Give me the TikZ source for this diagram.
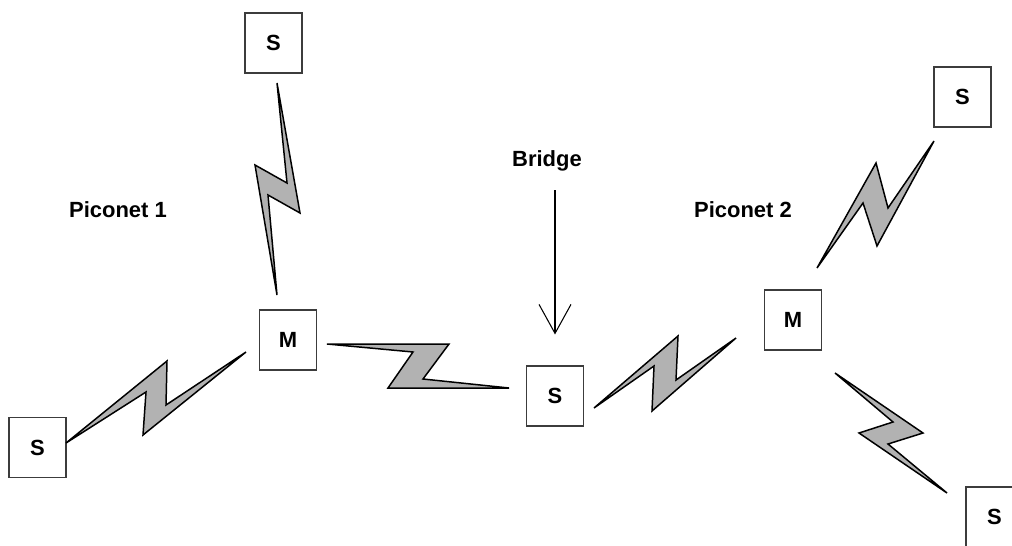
\documentclass[tikz,border=0pt]{standalone}
\usepackage{fontspec}
\setmainfont{Liberation Sans}
\definecolor{boltgray}{RGB}{178,178,178}
\definecolor{boxline}{RGB}{60,60,60}
\usetikzlibrary{arrows.meta,calc}

\begin{document}
\begin{tikzpicture}[
    box/.style={draw=boxline,line width=0.6pt,minimum width=1.14cm,minimum height=1.2cm,
      font=\fontsize{12.5}{15}\selectfont\bfseries,inner sep=0pt},
    lbl/.style={font=\fontsize{12.5}{15}\selectfont\bfseries},
    bolt/.style={draw=black,fill=boltgray,line width=0.85pt}]
  \useasboundingbox (0,0) rectangle (20.24,10.9);
  % Devices
  \node[box] (topS) at (5.47,10.04) {S};
  \node[box] (mA) at (5.76,4.10) {M};
  \node[box] (leftS) at (0.75,1.95) {S};
  \node[box] (bridgeS) at (11.10,2.98) {S};
  \node[box] (mB) at (15.86,4.50) {M};
  \node[box] (trS) at (19.25,8.96) {S};
  \node[box] (brS) at (19.89,0.56) {S};
  % Labels
  \node[lbl] (pico1) at (2.36,6.70) {Piconet 1};
  \node[lbl] (pico2) at (14.86,6.70) {Piconet 2};
  \node[lbl] (bridge) at (10.94,7.68) {Bridge};
  % Radio links, piconet 1
  \filldraw[bolt] (5.54,9.24) -- (6.00,6.64) -- (5.36,7.00) -- (5.54,5.00)
    -- (5.10,7.60) -- (5.74,7.24) -- cycle;
  \filldraw[bolt] (1.32,2.04) -- (3.34,3.68) -- (3.32,2.80) -- (4.92,3.86)
    -- (2.86,2.20) -- (2.92,3.06) -- cycle;
  \filldraw[bolt] (6.54,4.02) -- (8.98,4.02) -- (8.46,3.32) -- (10.18,3.14)
    -- (7.76,3.14) -- (8.26,3.86) -- cycle;
  % Radio links, piconet 2
  \filldraw[bolt] (11.88,2.74) -- (13.56,4.18) -- (13.52,3.30) -- (14.72,4.14)
    -- (13.04,2.68) -- (13.08,3.58) -- cycle;
  \filldraw[bolt] (16.34,5.54) -- (17.52,7.64) -- (17.76,6.74) -- (18.68,8.08)
    -- (17.54,5.98) -- (17.26,6.84) -- cycle;
  \filldraw[bolt] (16.70,3.44) -- (17.86,2.46) -- (17.18,2.24) -- (18.94,1.04)
    -- (17.76,2.02) -- (18.46,2.24) -- cycle;
  % Bridge pointer
  \draw[-{Straight Barb[length=0.58cm,width=0.64cm]},line width=0.6pt,
    shorten <=0.26cm,shorten >=0.62cm] (bridge.south -| bridgeS.north) -- (bridgeS.north);
\end{tikzpicture}
\end{document}
